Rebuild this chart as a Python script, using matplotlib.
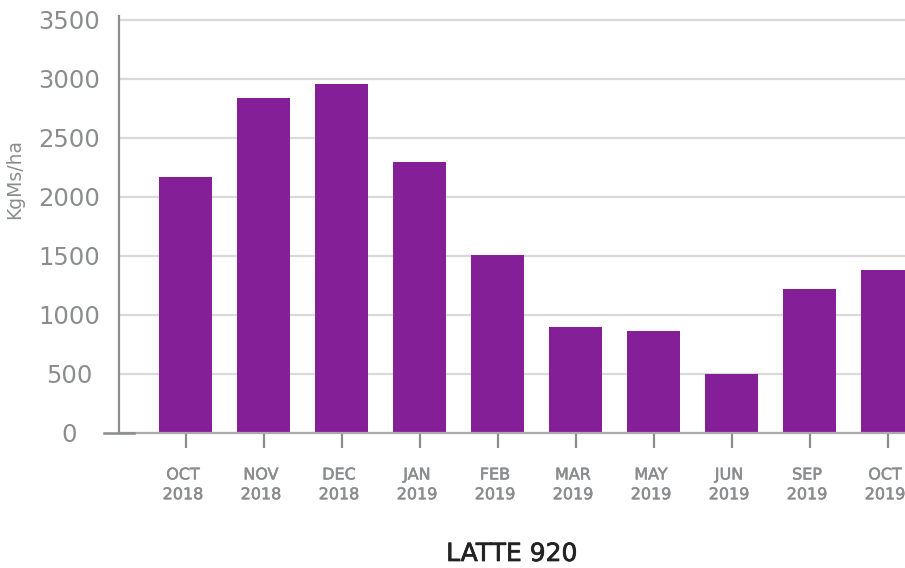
import matplotlib
matplotlib.use("Agg")
import matplotlib.pyplot as plt
import matplotlib.transforms as mtransforms
import matplotlib.patheffects as pe
from matplotlib.lines import Line2D

months = ["OCT\n2018", "NOV\n2018", "DEC\n2018", "JAN\n2019", "FEB\n2019",
          "MAR\n2019", "MAY\n2019", "JUN\n2019", "SEP\n2019", "OCT\n2019"]
kgms = [2167, 2836, 2955, 2294, 1506, 896, 862, 497, 1218, 1380]
yticks = [0, 500, 1000, 1500, 2000, 2500, 3000, 3500]

grey = "#8a8c8e"
purple = "#851f98"

plt.rcParams['font.family'] = ['DejaVu Sans']

fig = plt.figure(figsize=(9.05, 5.68), dpi=100)
ax = fig.add_axes([119/905, (568-432.7)/568, 786/905, 417/568])

x = list(range(len(months)))
ax.bar(x, kgms, width=0.68, color=purple, zorder=3)

ax.set_xlim(-0.853, 9.224)
ax.set_ylim(0, 3535)
ax.set_yticks(yticks)
ax.set_yticklabels([str(v) for v in yticks])
ax.set_xticks(x)
ax.set_xticklabels(months, linespacing=1.4)

ax.grid(axis='y', color='#d9d9d9', linewidth=1.6, zorder=0)
ax.set_axisbelow(True)

for s in ['top', 'right']:
    ax.spines[s].set_visible(False)
ax.spines['left'].set_color(grey)
ax.spines['left'].set_linewidth(1.6)
ax.spines['bottom'].set_color('#a9abad')
ax.spines['bottom'].set_linewidth(1.6)
ax.spines['bottom'].set_zorder(4)

ax.tick_params(axis='y', length=0, pad=36, labelsize=17.5, labelcolor=grey)
ax.tick_params(axis='x', length=11, width=1.6, color=grey, pad=14,
               labelsize=11.5, labelcolor=grey)
plt.setp(ax.get_yticklabels(), ha='center')

# labels sit a touch left of the bar centres
shift = mtransforms.ScaledTranslation(-2.5/100, 0, fig.dpi_scale_trans)
for lab in ax.get_xticklabels():
    lab.set_transform(lab.get_transform() + shift)
    lab.set_path_effects([pe.withStroke(linewidth=0.4, foreground=grey)])

ax.set_ylabel("KgMs/ha", fontsize=13.5, color=grey)
ax.yaxis.set_label_coords((24-119)/786, (432.7-179)/417)

# darker stub at the origin
fig.add_artist(Line2D([104/905, 134/905], [(568-432.7)/568]*2,
                      color=grey, linewidth=1.8))

fig.text(512/905, 1-554/568, "LATTE 920", ha='center', va='center',
         fontsize=18, color='#222222',
         path_effects=[pe.withStroke(linewidth=0.5, foreground='#222222')])

fig.savefig("out.png", dpi=100)
